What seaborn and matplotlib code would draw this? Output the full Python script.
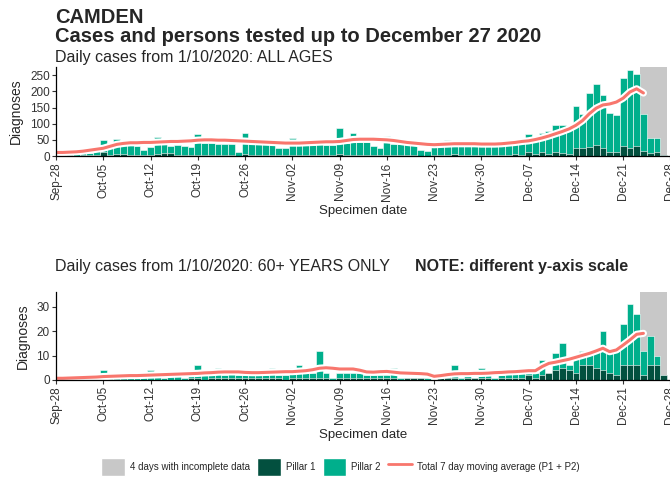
import pandas as pd
import numpy as np
import matplotlib
matplotlib.use("Agg")
import matplotlib.pyplot as plt
import matplotlib.patheffects as pe
from matplotlib.patches import Patch
from matplotlib.lines import Line2D
import seaborn as sns

# Daily values, 28 Sep 2020 to 27 Dec 2020 (91 days)
dates = pd.date_range("2020-09-28", "2020-12-27")

# All ages: total diagnoses (P1 + P2) and pillar 1 part
all_total = [8, 10, 20, 8, 26, 10, 15, 50, 40, 52, 35, 46, 30, 18,
             28, 60, 54, 32, 35, 30, 28, 67, 39, 39, 38, 36, 36, 13,
             70, 39, 38, 37, 36, 24, 24, 57, 36, 35, 33, 51, 35, 34,
             87, 39, 72, 42, 42, 32, 25, 62, 37, 37, 36, 37, 18, 15,
             44, 32, 48, 34, 35, 33, 34, 35, 34, 36, 44, 40, 40, 42,
             69, 58, 71, 77, 95, 95, 90, 156, 131, 195, 223, 190, 133, 126,
             241, 267, 254, 131, 56, 56, 4]
all_p1 = [1, 2, 3, 1, 4, 2, 3, 13, 4, 6, 5, 4, 3, 2,
          4, 6, 10, 8, 4, 3, 2, 4, 3, 2, 3, 4, 2, 1,
          5, 3, 2, 4, 3, 2, 2, 3, 4, 2, 3, 4, 2, 3,
          5, 3, 4, 3, 2, 3, 2, 4, 3, 2, 3, 2, 1, 1,
          3, 2, 4, 6, 3, 2, 3, 2, 3, 4, 3, 2, 5, 3,
          12, 5, 12, 6, 12, 8, 5, 25, 25, 29, 35, 25, 12, 12,
          30, 25, 30, 15, 8, 12, 3]
# 7 day moving average, 28 Sep to 24 Dec
all_avg = [11, 11, 12, 13, 15, 18, 21, 24, 30, 36, 39, 41, 41, 42,
           42, 43, 44, 45, 45, 46, 47, 49, 50, 50, 49, 49, 48, 47,
           46, 45, 44, 43, 42, 41, 40, 40, 40, 41, 42, 43, 44, 44,
           45, 48, 51, 52, 52, 52, 51, 50, 48, 45, 42, 40, 38, 36,
           35, 36, 37, 38, 38, 38, 38, 37, 37, 37, 38, 40, 42, 45,
           47, 51, 56, 62, 69, 76, 84, 95, 110, 131, 148, 158, 161, 167,
           179, 198, 208, 195]

# 60+ years: total diagnoses and pillar 1 part
old_total = [0, 0, 1, 0, 1, 0, 1, 4, 1, 1, 2, 1, 1, 2,
             4, 2, 1, 3, 2, 1, 2, 6, 2, 2, 5, 2, 3, 2,
             2, 2, 3, 2, 5, 2, 2, 5, 6, 3, 3, 12, 3, 1,
             3, 3, 3, 3, 2, 2, 2, 2, 5, 1, 1, 1, 1, 1,
             0, 1, 2, 6, 1, 2, 1, 5, 2, 1, 2, 4, 4, 4,
             4, 3, 8, 3, 11, 15, 6, 10, 12, 12, 13, 20, 11, 12,
             23, 31, 27, 12, 18, 10, 2]
old_p1 = [0, 0, 0, 0, 0, 0, 0, 0, 0, 0, 0, 0, 0, 0,
          0, 0, 0, 0, 0, 0, 1, 1, 0, 1, 1, 1, 1, 1,
          1, 1, 1, 1, 1, 1, 0, 1, 1, 1, 1, 1, 1, 0,
          1, 1, 1, 1, 1, 1, 1, 1, 1, 0, 1, 1, 1, 0,
          0, 1, 1, 1, 0, 1, 1, 1, 1, 0, 1, 1, 1, 1,
          2, 1, 2, 3, 4, 5, 4, 3, 6, 6, 5, 4, 3, 2,
          6, 6, 6, 2, 6, 6, 2]
old_avg = [0.7, 0.7, 0.8, 0.9, 1.0, 1.1, 1.2, 1.4, 1.5, 1.6, 1.7, 1.8, 1.8, 1.9,
           2.0, 2.1, 2.2, 2.3, 2.4, 2.5, 2.6, 2.7, 2.9, 3.0, 3.2, 3.3, 3.3, 3.3,
           3.1, 3.0, 3.0, 3.1, 3.2, 3.3, 3.4, 3.4, 3.6, 3.8, 4.2, 4.8, 5.0, 4.8,
           4.5, 4.5, 4.5, 4.0, 3.3, 3.2, 3.4, 3.5, 3.2, 2.9, 2.8, 2.7, 2.6, 2.4,
           1.5, 1.8, 2.2, 2.5, 2.6, 2.6, 2.7, 2.7, 2.8, 3.0, 3.1, 3.3, 3.4, 3.6,
           3.8, 3.8, 5.5, 6.8, 7.3, 7.9, 8.5, 9.3, 10.1, 10.9, 11.9, 13.0, 11.6, 12.3,
           14.3, 16.4, 18.7, 19.1]

tick_labels = ["Sep-28", "Oct-05", "Oct-12", "Oct-19", "Oct-26", "Nov-02", "Nov-09",
               "Nov-16", "Nov-23", "Nov-30", "Dec-07", "Dec-14", "Dec-21", "Dec-28"]
incomplete_days = 4

P1_COL = "#03503F"
P2_COL = "#00AF8C"
AVG_COL = "#F8766D"
GREY = "#C8C8C8"

sns.set_theme(style="ticks")
plt.rcParams["font.family"] = ["Liberation Sans", "DejaVu Sans"]

day = np.arange(len(dates))


def draw_panel(ax, total, p1, avg, ymax, yticks):
    df = pd.DataFrame({"day": day, "total": total, "p1": p1})
    last = len(dates) - 1
    ax.axvspan(last - incomplete_days + 0.5, last + 0.5, color=GREY, lw=0, zorder=0)
    sns.barplot(data=df, x="day", y="total", native_scale=True, width=1,
                color=P2_COL, saturation=1, edgecolor="white", linewidth=0.4,
                errorbar=None, ax=ax)
    sns.barplot(data=df, x="day", y="p1", native_scale=True, width=1,
                color=P1_COL, saturation=1, edgecolor="white", linewidth=0.4,
                errorbar=None, ax=ax)
    sns.lineplot(x=day[:len(avg)], y=avg, color=AVG_COL, lw=2.2, ax=ax)
    ax.lines[-1].set_path_effects([pe.Stroke(linewidth=5.2, foreground="white"), pe.Normal()])
    ax.set_xlim(0, 91)
    ax.set_ylim(0, ymax)
    ax.set_yticks(yticks)
    ax.set_xticks(np.arange(0, 92, 7))
    ax.set_xticklabels(tick_labels, rotation=90)
    ax.tick_params(axis="both", labelsize=8.5, length=3, width=0.8, pad=1.5, colors="#333333")
    ax.set_ylabel("Diagnoses", fontsize=10, labelpad=5)
    ax.set_xlabel("Specimen date", fontsize=9.5, labelpad=3)
    for s in ["left", "bottom"]:
        ax.spines[s].set_color("black")
        ax.spines[s].set_linewidth(0.9)
    sns.despine(ax=ax)


fig = plt.figure(figsize=(6.7, 4.83), dpi=100)
ax1 = fig.add_axes([0.0836, 0.677, 0.917, 0.184])
ax2 = fig.add_axes([0.0836, 0.2133, 0.917, 0.182])

draw_panel(ax1, all_total, all_p1, all_avg, 275, [0, 50, 100, 150, 200, 250])
draw_panel(ax2, old_total, old_p1, old_avg, 36, [0, 10, 20, 30])

fig.text(0.082, 0.953, "CAMDEN", fontsize=14.5, fontweight="bold", va="baseline")
fig.text(0.082, 0.9137, "Cases and persons tested up to December 27 2020",
         fontsize=14.5, fontweight="bold", va="baseline")
fig.text(0.082, 0.871, "Daily cases from 1/10/2020: ALL AGES", fontsize=11.5, va="baseline")
fig.text(0.082, 0.439, "Daily cases from 1/10/2020: 60+ YEARS ONLY", fontsize=11.5, va="baseline")
fig.text(0.619, 0.439, "NOTE: different y-axis scale", fontsize=11.5,
         fontweight="bold", va="baseline")

handles = [Patch(facecolor=GREY, edgecolor="white"),
           Patch(facecolor=P1_COL, edgecolor="white"),
           Patch(facecolor=P2_COL, edgecolor="white"),
           Line2D([], [], color=AVG_COL, lw=2)]
labels = ["4 days with incomplete data", "Pillar 1", "Pillar 2",
          "Total 7 day moving average (P1 + P2)"]
fig.legend(handles, labels, loc="center", bbox_to_anchor=(0.508, 0.033), ncol=4,
           frameon=False, fontsize=7, handlelength=2.4, handleheight=2.4,
           handletextpad=0.5, columnspacing=0.8)

fig.savefig("out.png", dpi=100)
